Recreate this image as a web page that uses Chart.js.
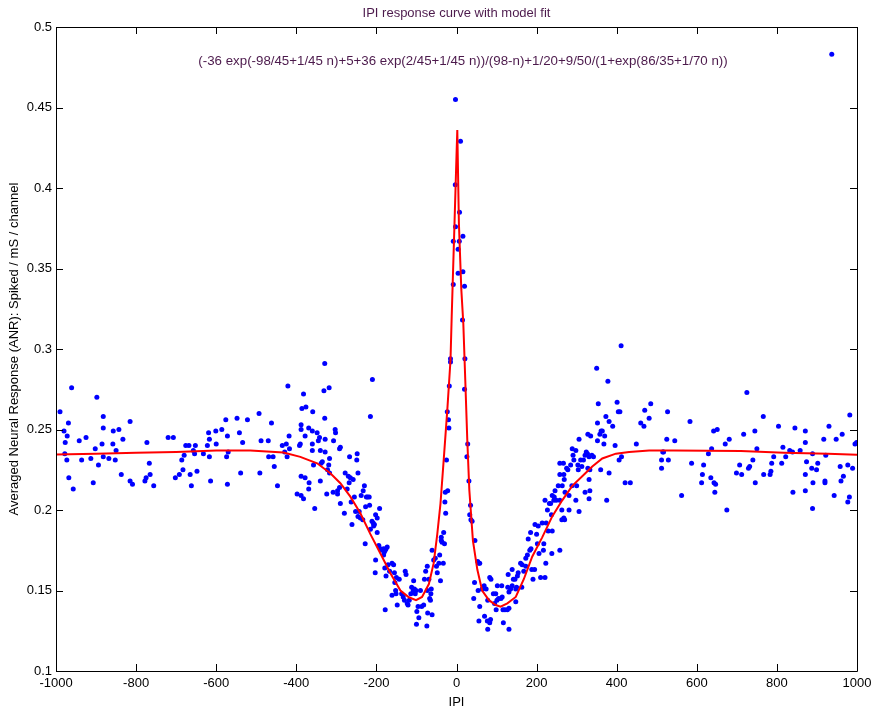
<!DOCTYPE html>
<html>
<head>
<meta charset="utf-8">
<title>IPI response curve with model fit</title>
<script src="https://cdn.jsdelivr.net/npm/chart.js@4.4.1/dist/chart.umd.min.js"></script>
<style>
  body { margin: 0; background: #fff; }
  #wrap { width: 882px; height: 719px; }
</style>
</head>
<body>
<div id="wrap"><canvas id="ipiChart" width="882" height="719"></canvas></div>
<script>
const scatterIPI = [
  -990, -980, -969, -972, -977, -978, -973, -968, -961, -957, -942, -936, -925, -913, -907, -902, -898, -894, -885, -882,
  -882, -882, -868, -858, -857, -852, -850, -843, -837, -833, -815, -815, -809, -778, -775, -773, -767, -765, -756, -720,
  -707, -702, -692, -686, -683, -680, -676, -668, -665, -662, -657, -652, -654, -648, -632, -622, -619, -617, -617, -614,
  -600, -601, -586, -576, -574, -572, -572, -570, -548, -542, -539, -534, -522,
  -329, -493, -421, -462, -488, -470, -469, -458, -455, -491, -447, -435, -425, -429, -423, -417, -418, -392, -390, -388,
  -388, -386, -382, -376, -378, -369, -360, -359, -360, -360, -348, -345, -342, -340, -338, -388, -378, -368, -369, -398,
  -388, -382, -354, -357, -335, -331, -318, -329, -328, -328, -324, -340, -319, -317, -322, -317, -307, -303, -302, -292,
  -290, -297, -308, -297, -292, -290, -280, -278, -273, -270, -268, -267, -263, -265, -261, -258, -255, -252, -249, -248,
  -246, -246, -243, -240, -238, -233, -230, -234, -228, -225, -227, -222, -218, -217, -215, -210, -215, -211, -207, -208,
  -205, -202, -198, -192, -198, -202, -203, -194, -190, -186, -182, -180, -178, -176, -173, -182, -179, -176, -178, -171,
  -167, -161, -157, -155, -150, -154, -152, -151, -161, -148, -143, -137, -133, -130, -128, -126, -123, -121, -118, -114,
  -112, -108, -107, -105, -103, -101, -99, -100, -96, -94, -90, -87, -82, -80, -77, -73, -74, -73, -72, -69,
  -67, -65, -64, -63, -61, -61, -57, -53, -50, -48, -44, -42, -40, -38, -36, -38, -32, -30, -33, -29,
  -28, -27, -25, -23, -22, -20, -19, -18,
  -2.5, 10, -3, 7.5, -2.5, -8, 7, 16, 4, 4, 16, -8, 20, 15, -15, -15, 21,
  20, 28, 26, 31, 35, 33, 36, 39, 46, 53, 56, 58, 45, 43, 54, 58, 56, 70, 64, 69,
  74, 78, 77, 78, 83, 85, 83, 86, 92, 98, 95, 101, 99, 105, 111, 114, 117, 121, 127, 131,
  116, 131, 102, 113, 128, 131, 135, 139, 142, 146, 148, 148, 150, 129, 139, 152, 154, 160, 164, 163,
  168, 173, 173, 177, 179, 183, 186, 188, 191, 195, 196, 185, 200, 202, 206, 204, 210, 214, 218, 217,
  221, 223, 224, 227, 221, 229, 232, 235, 238, 237, 239, 239, 243, 244, 246, 249, 254, 258, 258, 258,
  258, 263, 264, 267, 268, 269, 263, 268, 270, 271, 275, 278, 281, 281, 285, 288, 289, 291, 293, 298,
  300, 298, 303, 304, 306, 306, 310, 313, 317, 321, 321, 324, 327, 331, 328, 328, 333, 331, 333, 331,
  335, 338, 342, 350, 352, 352, 354, 358, 361, 364, 368, 373, 370, 360, 375, 378, 381, 381, 390, 396,
  401, 404, 408, 406, 411, 412, 421, 434, 449,
  460, 468, 470, 481, 485, 512, 512, 515, 517, 525, 527, 529, 545, 562, 583, 587, 612, 614, 617, 629,
  637, 635, 642, 643, 647, 645, 651, 671, 675, 681, 699, 707, 712, 717, 725, 729, 732, 740, 745, 746,
  750, 766, 767, 783, 785, 787, 792, 804, 812, 815, 822, 832, 839, 840, 845, 858, 871, 871, 871, 874,
  871, 887, 890, 889, 889, 899, 902, 917, 920, 920, 922, 930, 943, 948, 958, 960, 963, 966, 977, 977,
  981, 982, 989, 995, 999, 937
];
const scatterANR = [
  0.261, 0.249, 0.254, 0.246, 0.242, 0.235, 0.231, 0.220, 0.276, 0.213, 0.243, 0.231, 0.245, 0.232, 0.217, 0.238, 0.270, 0.228, 0.241, 0.251,
  0.258, 0.233, 0.232, 0.241, 0.249, 0.231, 0.237, 0.250, 0.222, 0.244, 0.255, 0.218, 0.216, 0.218, 0.220, 0.242, 0.229, 0.222, 0.215, 0.245,
  0.245, 0.220, 0.222, 0.231, 0.225, 0.234, 0.240, 0.240, 0.222, 0.215, 0.237, 0.240, 0.235, 0.224, 0.235, 0.240, 0.248, 0.244, 0.233, 0.218,
  0.241, 0.249, 0.250, 0.256, 0.233, 0.246, 0.216, 0.236, 0.257, 0.248, 0.223, 0.242, 0.256,
  0.291, 0.260, 0.277, 0.254, 0.243, 0.243, 0.233, 0.233, 0.227, 0.223, 0.215, 0.240, 0.241, 0.236, 0.233, 0.238, 0.246, 0.240, 0.241, 0.253,
  0.250, 0.263, 0.272, 0.264, 0.246, 0.251, 0.249, 0.261, 0.241, 0.237, 0.248, 0.243, 0.245, 0.237, 0.229, 0.221, 0.220, 0.217, 0.213, 0.210,
  0.209, 0.207, 0.201, 0.228, 0.230, 0.274, 0.276, 0.257, 0.244, 0.236, 0.210, 0.218, 0.228, 0.232, 0.225, 0.223, 0.243, 0.250, 0.248, 0.238,
  0.239, 0.212, 0.211, 0.210, 0.214, 0.204, 0.198, 0.223, 0.213, 0.221, 0.217, 0.233, 0.205, 0.220, 0.191, 0.219, 0.208, 0.199, 0.231, 0.235,
  0.223, 0.196, 0.199, 0.195, 0.209, 0.212, 0.215, 0.194, 0.179, 0.208, 0.202, 0.208, 0.208, 0.203, 0.258, 0.281, 0.188, 0.193, 0.190, 0.192,
  0.191, 0.197, 0.195, 0.201, 0.186, 0.169, 0.161, 0.178, 0.176, 0.175, 0.176, 0.174, 0.175, 0.176, 0.177, 0.172, 0.164, 0.159, 0.138, 0.166,
  0.162, 0.167, 0.166, 0.161, 0.158, 0.155, 0.150, 0.148, 0.147, 0.141, 0.157, 0.148, 0.146, 0.144, 0.162, 0.160, 0.142, 0.141, 0.144, 0.148,
  0.152, 0.150, 0.156, 0.151, 0.148, 0.150, 0.137, 0.129, 0.140, 0.133, 0.150, 0.140, 0.141, 0.157, 0.162, 0.165, 0.128, 0.150, 0.136, 0.157,
  0.145, 0.144, 0.148, 0.151, 0.135, 0.175, 0.169, 0.170, 0.165, 0.161, 0.167, 0.172, 0.156, 0.183, 0.180, 0.181, 0.186, 0.179, 0.167, 0.205,
  0.211, 0.198, 0.231, 0.261, 0.212, 0.256, 0.251, 0.277,
  0.455, 0.429, 0.402, 0.385, 0.376, 0.367, 0.367, 0.370, 0.362, 0.347, 0.348, 0.340, 0.339, 0.318, 0.294, 0.292, 0.294,
  0.275, 0.241, 0.233, 0.218, 0.203, 0.197, 0.194, 0.193, 0.181, 0.168, 0.167, 0.167, 0.155, 0.145, 0.150, 0.140, 0.131, 0.134, 0.151, 0.153,
  0.151, 0.144, 0.131, 0.126, 0.130, 0.132, 0.158, 0.157, 0.148, 0.148, 0.142, 0.144, 0.138, 0.145, 0.145, 0.146, 0.130, 0.138, 0.138, 0.139,
  0.138, 0.126, 0.153, 0.153, 0.152, 0.149, 0.151, 0.153, 0.157, 0.157, 0.151, 0.143, 0.152, 0.160, 0.163, 0.159, 0.161, 0.167, 0.166, 0.152,
  0.162, 0.165, 0.170, 0.172, 0.182, 0.175, 0.176, 0.163, 0.157, 0.163, 0.191, 0.186, 0.185, 0.179, 0.173, 0.190, 0.158, 0.192, 0.179, 0.175,
  0.158, 0.167, 0.192, 0.200, 0.206, 0.187, 0.204, 0.204, 0.173, 0.197, 0.187, 0.209, 0.206, 0.208, 0.212, 0.206, 0.215, 0.229, 0.222, 0.206,
  0.175, 0.200, 0.215, 0.229, 0.222, 0.219, 0.194, 0.195, 0.194, 0.211, 0.226, 0.225, 0.209, 0.200, 0.228, 0.215, 0.238, 0.234, 0.231, 0.237,
  0.215, 0.206, 0.228, 0.225, 0.244, 0.199, 0.231, 0.227, 0.231, 0.234, 0.211, 0.236, 0.235, 0.233, 0.247, 0.226, 0.225, 0.219, 0.212, 0.207,
  0.246, 0.234, 0.233, 0.288, 0.254, 0.243, 0.266, 0.247, 0.249, 0.249, 0.241, 0.258, 0.246, 0.225, 0.206, 0.280, 0.255, 0.223, 0.252, 0.240,
  0.267, 0.261, 0.261, 0.231, 0.302, 0.233, 0.217, 0.217, 0.241,
  0.254, 0.252, 0.262, 0.257, 0.266, 0.231, 0.226, 0.236, 0.236, 0.244, 0.261, 0.231, 0.243, 0.209, 0.255, 0.229, 0.217, 0.222, 0.228, 0.235,
  0.238, 0.220, 0.249, 0.217, 0.216, 0.211, 0.250, 0.241, 0.200, 0.244, 0.223, 0.228, 0.222, 0.247, 0.273, 0.226, 0.227, 0.231, 0.249, 0.217,
  0.238, 0.258, 0.222, 0.222, 0.224, 0.229, 0.233, 0.252, 0.229, 0.239, 0.233, 0.237, 0.236, 0.211, 0.251, 0.237, 0.249, 0.242, 0.222, 0.230,
  0.212, 0.226, 0.217, 0.201, 0.235, 0.225, 0.229, 0.244, 0.218, 0.217, 0.234, 0.252, 0.209, 0.244, 0.227, 0.218, 0.247, 0.221, 0.228, 0.205,
  0.208, 0.259, 0.226, 0.241, 0.242, 0.483
];

// model fit curve
const fitIPI = [
  -1000, -900, -800, -700, -600, -515, -432, -390, -348, -315, -290, -265, -240, -215, -190, -165, -140, -119, -101, -86,
  -69, -57, -48, -40, -32, -23, -15, -12, -5, 0, 2, 6, 12, 17, 22, 27, 32, 41, 52, 64,
  81, 98, 110, 127, 148, 168, 189, 214, 239, 264, 289, 314, 339, 364, 398, 431, 481, 543, 710, 818,
  927, 1000
];
const fitANR = [
  0.2345, 0.235, 0.2355, 0.236, 0.237, 0.237, 0.2357, 0.233, 0.229, 0.2228, 0.2166, 0.2083, 0.198, 0.185, 0.173, 0.1607, 0.150, 0.1458, 0.144, 0.146,
  0.154, 0.167, 0.185, 0.204, 0.231, 0.262, 0.293, 0.320, 0.378, 0.420, 0.436, 0.378, 0.337, 0.316, 0.280, 0.243, 0.2125, 0.181, 0.163, 0.150,
  0.144, 0.141, 0.140, 0.142, 0.146, 0.157, 0.171, 0.183, 0.196, 0.206, 0.215, 0.221, 0.227, 0.232, 0.235, 0.236, 0.237, 0.237, 0.2366, 0.2356,
  0.235, 0.2343
];

const xTicks = { min: -1000, max: 1000, step: 200 };
const yTicks = { min: 0.1, max: 0.5, step: 0.05 };

const titleText = 'IPI response curve with model fit';
const formulaText = '(-36 exp(-98/45+1/45 n)+5+36 exp(2/45+1/45 n))/(98-n)+1/20+9/50/(1+exp(86/35+1/70 n))';
const xLabel = 'IPI';
const yLabel = 'Averaged Neural Response (ANR): Spiked / mS / channel';

const purple = '#4c1a4c';

Chart.defaults.font.family = '"Liberation Sans", Arial, sans-serif';
Chart.defaults.color = '#000';

// matlab style box with inward tick marks, plus title and formula text
const matlabBox = {
  id: 'matlabBox',
  afterDraw(chart) {
    const ctx = chart.ctx;
    const { left, right, top, bottom } = chart.chartArea;
    const xs = chart.scales.x, ys = chart.scales.y;
    const len = 7;
    ctx.save();
    ctx.strokeStyle = '#000';
    ctx.lineWidth = 1;
    ctx.beginPath();
    ctx.rect(Math.round(left) + 0.5, Math.round(top) + 0.5, Math.round(right - left), Math.round(bottom - top));
    xs.ticks.forEach(t => {
      const p = Math.round(xs.getPixelForValue(t.value)) + 0.5;
      ctx.moveTo(p, bottom); ctx.lineTo(p, bottom - len);
      ctx.moveTo(p, top); ctx.lineTo(p, top + len);
    });
    ys.ticks.forEach(t => {
      const p = Math.round(ys.getPixelForValue(t.value)) + 0.5;
      ctx.moveTo(left, p); ctx.lineTo(left + len, p);
      ctx.moveTo(right, p); ctx.lineTo(right - len, p);
    });
    ctx.stroke();

    ctx.fillStyle = purple;
    ctx.textAlign = 'center';
    ctx.textBaseline = 'middle';
    ctx.font = '13px "Liberation Sans", Arial, sans-serif';
    ctx.fillText(titleText, (left + right) / 2, top - 14);
    ctx.font = '13.3px "Liberation Sans", Arial, sans-serif';
    ctx.fillText(formulaText, left + 407, top + 34);
    ctx.restore();
  }
};

const ctx = document.getElementById('ipiChart').getContext('2d');
const ipiChart = new Chart(ctx, {
  type: 'scatter',
  data: {
    datasets: [
      {
        label: 'model fit',
        data: fitIPI.map((x, i) => ({ x: x, y: fitANR[i] })),
        showLine: true,
        borderColor: '#ff0000',
        borderWidth: 2,
        pointRadius: 0,
        tension: 0,
        order: 0
      },
      {
        label: 'IPI response',
        data: scatterIPI.map((x, i) => ({ x: x, y: scatterANR[i] })),
        backgroundColor: '#0000ff',
        borderWidth: 0,
        pointRadius: 2.5,
        order: 1
      }
    ]
  },
  options: {
    responsive: false,
    animation: false,
    events: [],
    layout: { padding: { left: 0, right: 25, top: 27, bottom: 0 } },
    plugins: {
      legend: { display: false },
      tooltip: { enabled: false },
      title: { display: false }
    },
    scales: {
      x: {
        type: 'linear',
        min: xTicks.min,
        max: xTicks.max,
        grid: { display: false, drawTicks: false },
        border: { display: false },
        ticks: {
          stepSize: xTicks.step,
          font: { size: 13 },
          padding: 5,
          maxRotation: 0,
          autoSkip: false,
          callback: v => String(v)
        },
        title: { display: true, text: xLabel, font: { size: 13 }, padding: { top: 0, bottom: 9 } },
        afterFit: s => { s.height = 48; }
      },
      y: {
        type: 'linear',
        min: yTicks.min,
        max: yTicks.max,
        grid: { display: false, drawTicks: false },
        border: { display: false },
        ticks: {
          stepSize: yTicks.step,
          font: { size: 13 },
          padding: 4,
          callback: v => String(parseFloat(v.toFixed(2)))
        },
        title: { display: true, text: yLabel, font: { size: 13 }, padding: { top: 7, bottom: 0 } },
        afterFit: s => { s.width = 56; }
      }
    }
  },
  plugins: [matlabBox]
});
</script>
</body>
</html>
